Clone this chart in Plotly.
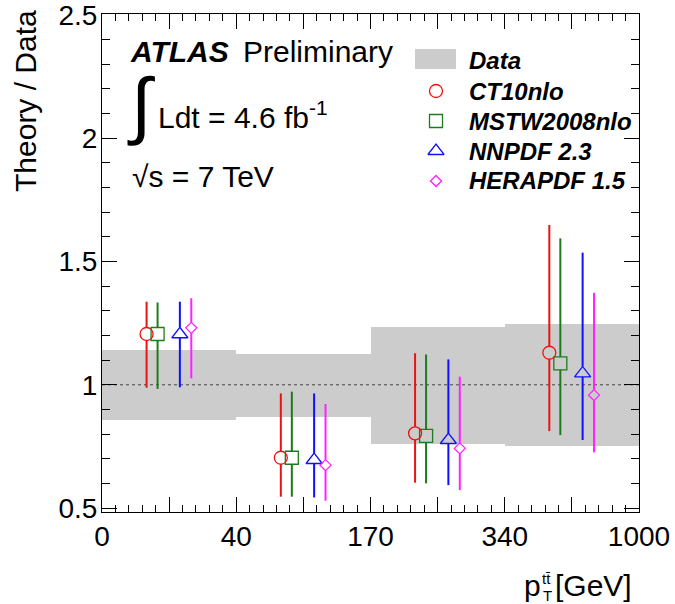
import plotly.graph_objects as go

# ---------------- data ----------------
bin_labels = ["0", "40", "170", "340", "1000"]          # pT(ttbar) bin edges [GeV]
data_lo = [0.857, 0.870, 0.760, 0.752]                 # data uncertainty band (ratio)
data_hi = [1.141, 1.125, 1.235, 1.246]

series_names = ["CT10nlo", "MSTW2008nlo", "NNPDF 2.3", "HERAPDF 1.5"]
ct10_val = [1.206, 0.704, 0.803, 1.130]
ct10_hi = [1.337, 0.965, 1.128, 1.648]
ct10_lo = [0.988, 0.546, 0.603, 0.812]
mstw_val = [1.206, 0.704, 0.793, 1.087]
mstw_hi = [1.334, 0.972, 1.123, 1.594]
mstw_lo = [0.983, 0.546, 0.600, 0.796]
nnpdf_val = [1.205, 0.695, 0.776, 1.046]
nnpdf_hi = [1.337, 0.965, 1.103, 1.536]
nnpdf_lo = [0.990, 0.543, 0.593, 0.776]
hera_val = [1.231, 0.674, 0.742, 0.958]
hera_hi = [1.351, 0.922, 1.033, 1.373]
hera_lo = [1.026, 0.530, 0.573, 0.726]

y_tick_vals = [0.5, 1.0, 1.5, 2.0, 2.5]
y_tick_text = ["0.5", "1", "1.5", "2", "2.5"]

# ---------------- style ----------------
FONT = "Liberation Sans, Arial, Helvetica, sans-serif"
W, H = 675, 604
ML, MR, MT, MB = 102, 36, 14, 92
PLOT_W = W - ML - MR
PLOT_H = H - MT - MB
YR = (0.484, 2.504)
px2y = (YR[1] - YR[0]) / PLOT_H

def px(x):   # pixel x -> paper
    return (x - ML) / PLOT_W

def py(y):   # pixel y -> paper
    return (H - MB - y) / PLOT_H

styles = [
    dict(color="#ee1111", symbol="circle-open", size=13, off=0.332, gu=6.5, gd=6.5),
    dict(color="#1e7a1e", symbol="square-open", size=13, off=0.414, gu=6.5, gd=6.5),
    dict(color="#1010ff", symbol="triangle-up-open", size=14, off=0.580, gu=7.0, gd=3.5),
    dict(color="#ff22ff", symbol="diamond-open", size=8.5, off=0.665, gu=5.5, gd=5.5),
]
series = [
    (ct10_val, ct10_hi, ct10_lo),
    (mstw_val, mstw_hi, mstw_lo),
    (nnpdf_val, nnpdf_hi, nnpdf_lo),
    (hera_val, hera_hi, hera_lo),
]

fig = go.Figure()

nb = len(data_lo)
fig.add_trace(go.Bar(
    x=[i + 0.5 for i in range(nb)],
    base=data_lo,
    y=[h - l for h, l in zip(data_hi, data_lo)],
    width=1.0,
    marker=dict(color="#cccccc", line=dict(width=0)),
    showlegend=False, hoverinfo="skip",
))

fig.add_trace(go.Scatter(
    x=[0, nb], y=[1, 1], mode="lines",
    line=dict(color="#444444", width=1, dash="3px,3px"),
    showlegend=False, hoverinfo="skip",
))

for (val, hi, lo), st, name in zip(series, styles, series_names):
    xs = [i + st["off"] for i in range(len(val))]
    lx, ly = [], []
    for x, v, h, l in zip(xs, val, hi, lo):
        lx += [x, x, None, x, x, None]
        ly += [v + st["gu"] * px2y, h, None, v - st["gd"] * px2y, l, None]
    fig.add_trace(go.Scatter(
        x=lx, y=ly, mode="lines",
        line=dict(color=st["color"], width=2),
        showlegend=False, hoverinfo="skip",
    ))
    fig.add_trace(go.Scatter(
        x=xs, y=val, mode="markers", name=name,
        marker=dict(symbol=st["symbol"], size=st["size"], color=st["color"],
                    line=dict(color=st["color"], width=1.3)),
        showlegend=False,
    ))

# ---------------- legend (pixel overlay) ----------------
leg_y = [91, 121, 151, 181]
for st, yy in zip(styles, leg_y):
    fig.add_trace(go.Scatter(
        x=[436], y=[yy], mode="markers", xaxis="x2", yaxis="y2",
        marker=dict(symbol=st["symbol"], size=st["size"], color=st["color"],
                    line=dict(color=st["color"], width=1.3)),
        showlegend=False, hoverinfo="skip",
    ))

shapes = [dict(type="rect", xref="paper", yref="paper",
               x0=px(415), x1=px(456), y0=py(69), y1=py(49),
               fillcolor="#cccccc", line=dict(width=0), layer="below")]

ann = []
def txt(x, y, s, size, xanchor="left", yanchor="middle", angle=0, family=FONT):
    ann.append(dict(x=px(x), y=py(y), xref="paper", yref="paper", text=s,
                    showarrow=False, xanchor=xanchor, yanchor=yanchor,
                    textangle=angle,
                    font=dict(family=family, size=size, color="black")))

txt(467, 60, "<b><i>Data</i></b>", 24)
for nm, yy in zip(series_names, leg_y):
    txt(467, yy, "<b><i>%s</i></b>" % nm, 24)

txt(128, 52, "<b><i>ATLAS</i></b>", 30)
txt(241, 52, "Preliminary", 30)
txt(125, 104, "∫", 74)
txt(156, 115, "Ldt = 4.6 fb<sup>-1</sup>", 30)
txt(130, 177, "√s = 7 TeV", 30)

txt(26, 101, "Theory / Data", 30, xanchor="center", angle=-90)
txt(522, 585, "p", 30)
txt(540, 578, "tt\u0304", 15)
txt(541, 595, "T", 15)
txt(553, 585, "[GeV]", 30)

xt_vals = [i * 0.5 for i in range(2 * nb + 1)]
xt_text = [bin_labels[int(v)] if v == int(v) else "" for v in xt_vals]

axis_common = dict(showline=True, linecolor="black", linewidth=1, mirror="ticks",
                   ticks="inside", tickcolor="black", tickwidth=1, ticklen=15,
                   showgrid=False, zeroline=False, ticklabeloverflow="allow",
                   automargin=False,
                   tickfont=dict(family=FONT, size=28, color="black"))

fig.update_layout(
    width=W, height=H, autosize=False,
    margin=dict(l=ML, r=MR, t=MT, b=MB, pad=0, autoexpand=False),
    paper_bgcolor="white", plot_bgcolor="white",
    showlegend=False, bargap=0,
    xaxis=dict(range=[0, nb], tickmode="array", tickvals=xt_vals, ticktext=xt_text,
               ticklabelstandoff=-1,
               minor=dict(tickmode="linear", tick0=0, dtick=0.1, ticks="inside",
                          ticklen=7, tickcolor="black", tickwidth=1, showgrid=False),
               **axis_common),
    yaxis=dict(range=list(YR), tickmode="array", tickvals=y_tick_vals,
               ticktext=y_tick_text, ticklabelstandoff=-2,
               minor=dict(tickmode="linear", tick0=0.5, dtick=0.1, ticks="inside",
                          ticklen=8, tickcolor="black", tickwidth=1, showgrid=False),
               **axis_common),
    xaxis2=dict(overlaying="x", range=[ML, W - MR], visible=False, fixedrange=True,
                automargin=False),
    yaxis2=dict(overlaying="y", range=[H - MB, MT], visible=False, fixedrange=True,
                automargin=False),
    shapes=shapes,
    annotations=ann,
)

fig.write_html("out.html", config={"displayModeBar": False, "responsive": False},
               post_script="document.body.style.margin='0';document.body.style.overflow='hidden';")
